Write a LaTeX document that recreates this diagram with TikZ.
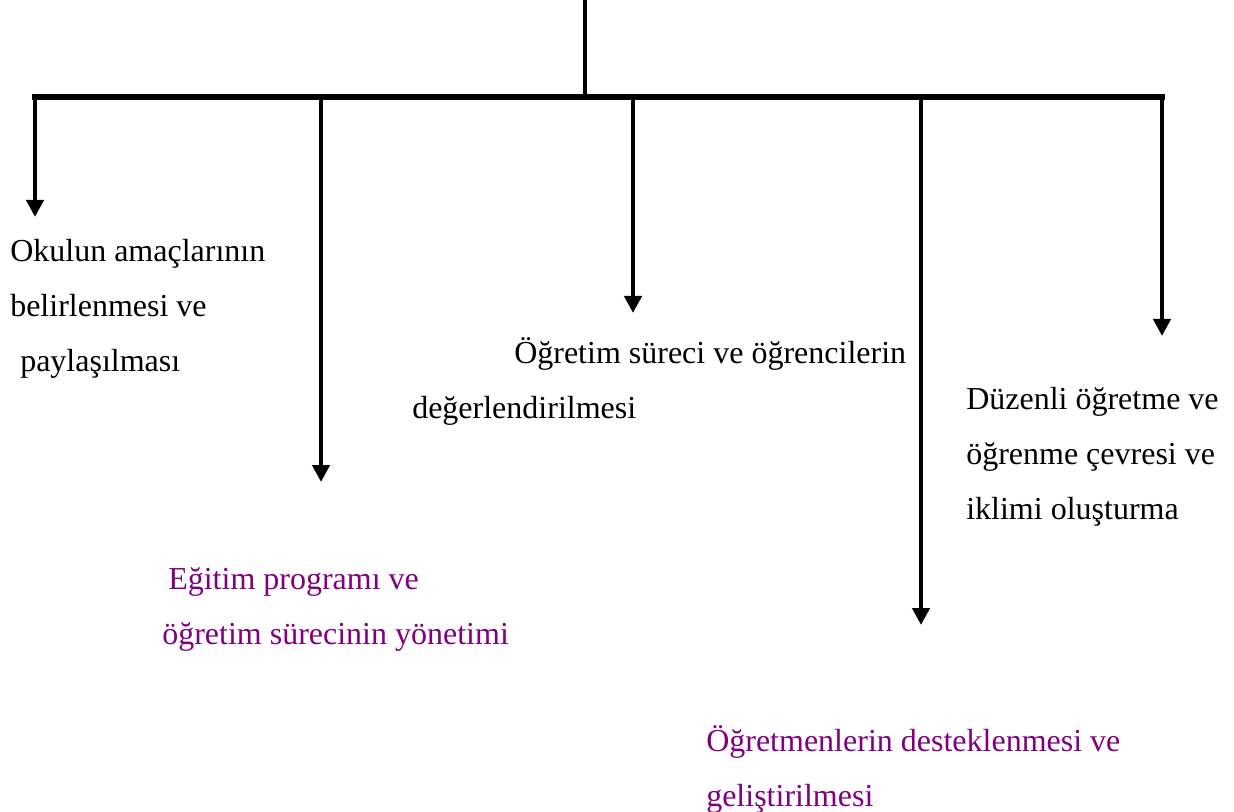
\documentclass[tikz,border=0pt]{standalone}
\usepackage{fontspec}
\setmainfont{Liberation Serif}
\usetikzlibrary{arrows.meta}
\definecolor{plum}{RGB}{128,0,128}

\begin{document}
\begin{tikzpicture}[
        x=0.75pt, y=-0.75pt,
        bar/.style={line width=3.8pt, line cap=rect},
        branch/.style={line width=3.4pt, -{Triangle[width=12.75pt,length=12.75pt]}},
        lbl/.style={anchor=base west, inner sep=0pt, align=left,
            font=\fontsize{24pt}{41.25pt}\selectfont},
        plbl/.style={lbl, text=plum},
    ]
    \useasboundingbox (0,0) rectangle (1234,812);

    % trunk
    \coordinate (root) at (585,0);
    \coordinate (hub) at (585,97);
    \coordinate (b1) at (35,97);
    \coordinate (b2) at (321,97);
    \coordinate (b3) at (633,97);
    \coordinate (b4) at (921,97);
    \coordinate (b5) at (1162,97);
    \draw[line width=3.4pt] (root) -- (hub);
    \draw[bar] (b1) -- (b5);

    % arrow tips
    \coordinate (t1) at (35,217);
    \coordinate (t2) at (321,482);
    \coordinate (t3) at (633,313);
    \coordinate (t4) at (921,625);
    \coordinate (t5) at (1162,336);
    \draw[branch] (b1) -- (t1);
    \draw[branch] (b2) -- (t2);
    \draw[branch] (b3) -- (t3);
    \draw[branch] (b4) -- (t4);
    \draw[branch] (b5) -- (t5);

    % labels
    \node[lbl] (amac) at (10,372) {Okulun amaçlarının\\belirlenmesi ve\\\hspace*{7.5pt}paylaşılması};
    \node[plbl] (program) at (162,644) {\hspace*{4.5pt}Eğitim programı ve\\öğretim sürecinin yönetimi};
    \node[lbl] (deger) at (412,419) {\hspace*{76.5pt}Öğretim süreci ve öğrencilerin\\değerlendirilmesi};
    \node[plbl] (ogretmen) at (706,806) {Öğretmenlerin desteklenmesi ve\\geliştirilmesi};
    \node[lbl] (iklim) at (966,519) {Düzenli öğretme ve\\öğrenme çevresi ve\\iklimi oluşturma};
\end{tikzpicture}
\end{document}
